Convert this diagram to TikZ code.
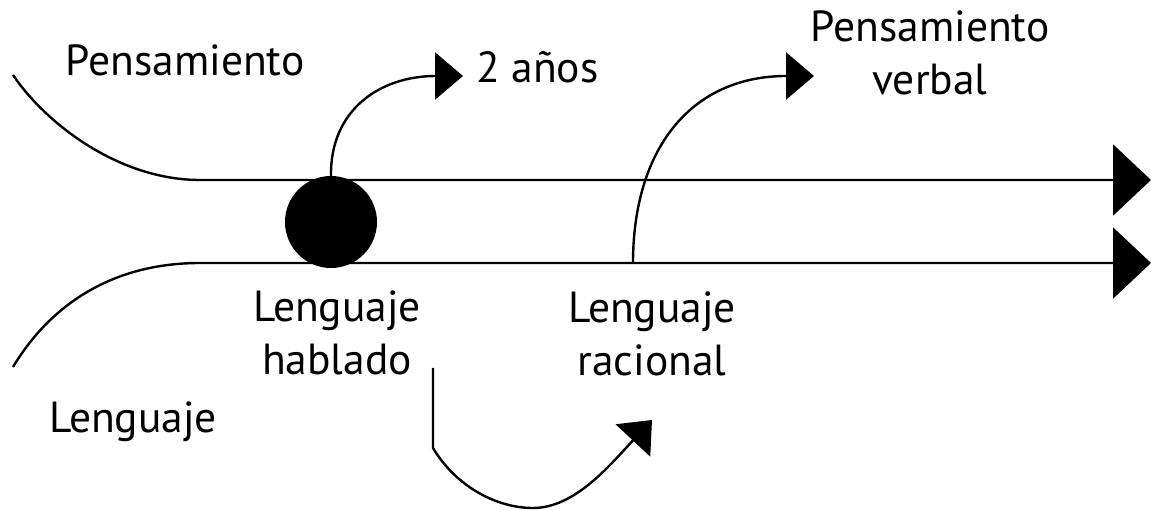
\documentclass[tikz,border=0pt]{standalone}
\usepackage{fontspec}
\setmainfont{PT Sans}
\usetikzlibrary{arrows.meta}
\tikzset{
  conn/.style={line width=2.4pt},
  bigtip/.style={-{Triangle[length=38pt,width=71pt]}},
  smalltip/.style={-{Triangle[length=28pt,width=47pt]}},
  lbl/.style={font=\fontsize{43.5}{53}\selectfont, align=center, anchor=base, inner sep=0pt},
}
\begin{document}
\begin{tikzpicture}[x=1pt,y=-1pt]
\useasboundingbox (0,0) rectangle (1151,510);
% named points
\coordinate (pstart) at (13,75);
\coordinate (pjoin) at (200,180);
\coordinate (pend) at (1151,180);
\coordinate (lstart) at (13,367);
\coordinate (ljoin) at (200,263);
\coordinate (lend) at (1151,263);
\coordinate (anostip) at (463,76);
\coordinate (verbstart) at (633,263);
\coordinate (verbtip) at (814,76);
\coordinate (habstart) at (433,368);
\coordinate (habcorner) at (433,448);
\coordinate (habbottom) at (533,508);
\coordinate (habtip) at (652,420);
% dot
\node[circle, fill=black, minimum size=92pt, inner sep=0pt] (dot) at (331,222) {};
% main lines
\draw[conn,bigtip] (pstart) .. controls (47,125) and (120,180) .. (pjoin) -- (pend);
\draw[conn,bigtip] (lstart) .. controls (49,307) and (110,263) .. (ljoin) -- (lend);
% arrows
\draw[conn,smalltip] (dot.north) .. controls (330,110) and (380,76) .. (anostip);
\draw[conn,smalltip] (verbstart) .. controls (633,150) and (690,76) .. (verbtip);
\draw[conn,smalltip] (habstart) -- (habcorner) .. controls (455,485) and (495,508) .. (habbottom) .. controls (575,508) and (610,465) .. (habtip);
% labels
\node[lbl] (tpens) at (185,76) {Pensamiento};
\node[lbl, anchor=base west] (tanos) at (476,83) {2 años};
\node[lbl] (tverb) at (930,95) {Pensamiento\\verbal};
\node[lbl] (thab) at (337,375) {Lenguaje\\hablado};
\node[lbl] (trac) at (652,376) {Lenguaje\\racional};
\node[lbl] (tleng) at (133,432) {Lenguaje};
\end{tikzpicture}
\end{document}
